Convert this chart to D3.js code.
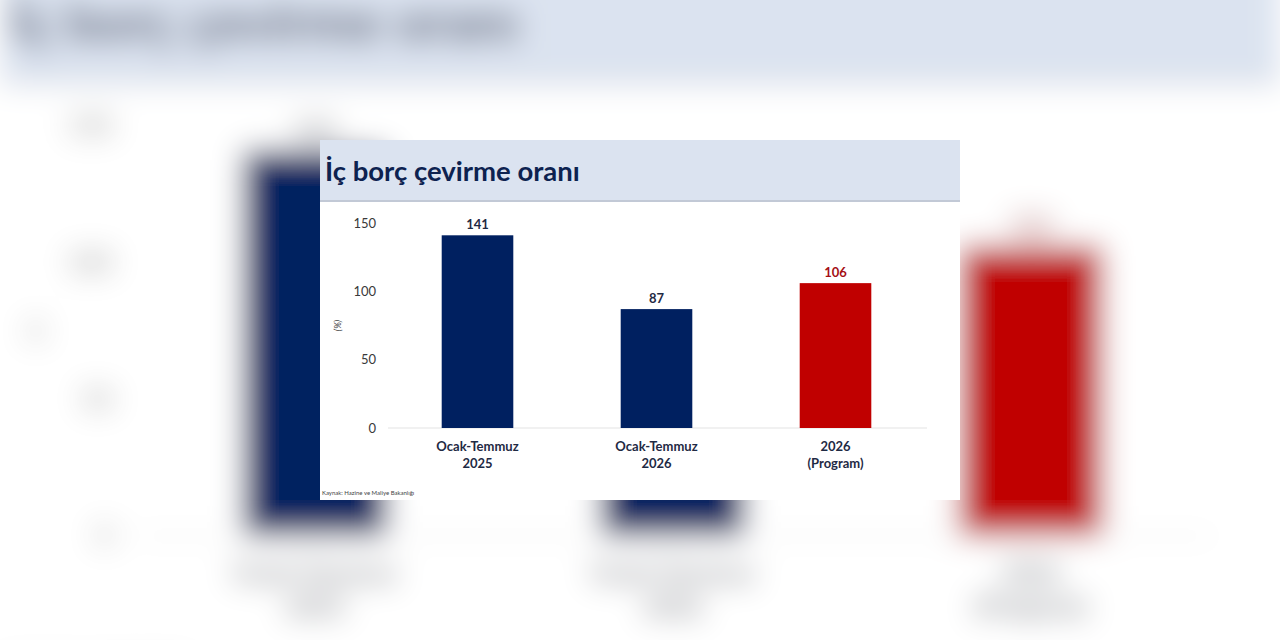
<!DOCTYPE html>
<html><head><meta charset="utf-8">
<script src="https://cdn.jsdelivr.net/npm/d3@7"></script>
<style>html,body{margin:0;padding:0;background:#fff;overflow:hidden}svg{display:block}</style>
</head><body>
<svg id="c" width="1280" height="640"></svg>
<script>
const title = "İç borç çevirme oranı";
const categories = [["Ocak-Temmuz","2025"],["Ocak-Temmuz","2026"],["2026","(Program)"]];
const values = [141, 87, 106];
const barColors = ["#002060","#002060","#c00000"];
const labelColors = ["#1f2a44","#1f2a44","#a50f15"];
const yTicks = [0, 50, 100, 150];
const yLabel = "(%)";
const source = "Kaynak: Hazine ve Maliye Bakanlığı";

const FONT = "Lato, 'Open Sans', sans-serif";
const svg = d3.select("#c");
const defs = svg.append("defs");
defs.append("filter").attr("id","blur").attr("x","-20%").attr("y","-20%").attr("width","140%").attr("height","140%")
  .attr("filterUnits","objectBoundingBox")
  .append("feGaussianBlur").attr("stdDeviation", 15);

function drawChart(g){
  const W = 640, H = 360;
  g.append("rect").attr("width",W).attr("height",H).attr("fill","#fff");
  g.append("rect").attr("width",W).attr("height",60).attr("fill","#dbe3f0");
  g.append("rect").attr("y",60).attr("width",W).attr("height",2).attr("fill","#c2c9d6");
  g.append("text").attr("x",5).attr("y",41).text(title)
    .attr("font-family",FONT).attr("font-weight",700).attr("font-size",27.5).attr("fill","#0d2250");

  const x = d3.scaleBand().domain(d3.range(values.length)).range([68,605]).paddingInner(0.6).paddingOuter(0.3);
  const y = d3.scaleLinear().domain([0,150]).range([288,83]);

  g.append("line").attr("x1",68).attr("x2",607).attr("y1",y(0)).attr("y2",y(0))
    .attr("stroke","#e3e3e3").attr("stroke-width",1.2);

  const ax = g.append("g").attr("transform","translate(56,0)")
    .call(d3.axisLeft(y).tickValues(yTicks).tickSize(0).tickPadding(0));
  ax.select(".domain").remove();
  ax.selectAll("text").attr("font-family",FONT).attr("font-size",13).attr("fill","#3a3a3a");

  g.append("text").attr("transform","translate(21,"+y(75)+") rotate(-90)")
    .attr("text-anchor","middle").attr("font-family",FONT).attr("font-style","italic")
    .attr("font-size",9).attr("fill","#444").text(yLabel);

  g.selectAll(".bar").data(values).join("rect").attr("class","bar")
    .attr("x",(d,i)=>x(i)).attr("width",x.bandwidth())
    .attr("y",d=>y(d)).attr("height",d=>y(0)-y(d))
    .attr("fill",(d,i)=>barColors[i]);

  g.selectAll(".val").data(values).join("text").attr("class","val")
    .attr("x",(d,i)=>x(i)+x.bandwidth()/2).attr("y",d=>y(d)-6)
    .attr("text-anchor","middle").attr("font-family",FONT).attr("font-weight",700)
    .attr("font-size",13).attr("fill",(d,i)=>labelColors[i]).text(d=>d);

  const cat = g.selectAll(".cat").data(categories).join("text").attr("class","cat")
    .attr("text-anchor","middle").attr("font-family",FONT).attr("font-weight",700)
    .attr("font-size",13).attr("fill","#1f2a44");
  cat.selectAll("tspan").data((d,i)=>d.map(t=>({t,i}))).join("tspan")
    .attr("x",d=>x(d.i)+x.bandwidth()/2).attr("y",(d,j)=>y(0)+23+j*17).text(d=>d.t);

  g.append("text").attr("x",2).attr("y",355).text(source)
    .attr("font-family",FONT).attr("font-size",6).attr("fill","#444");
}

// blurred enlarged backdrop
const bgOuter = svg.append("g").attr("filter","url(#blur)");
bgOuter.append("rect").attr("x",-100).attr("y",-100).attr("width",1480).attr("height",840).attr("fill","#fff");
const bg = bgOuter.append("g").attr("transform","translate(0,-40) scale(2)");
drawChart(bg);

// foreground chart
const fg = svg.append("g").attr("transform","translate(320,140)");
drawChart(fg);
</script>
</body></html>
